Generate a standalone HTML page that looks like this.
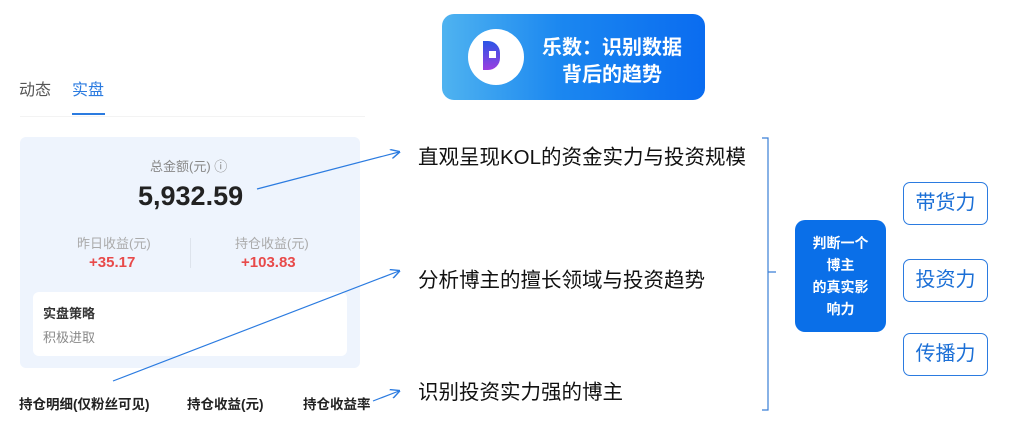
<!DOCTYPE html>
<html><head><meta charset="utf-8"><style>
body{margin:0;width:1024px;height:445px;background:#fff;position:relative;overflow:hidden;font-family:"Liberation Sans","Noto Sans CJK SC",sans-serif}
.a{position:absolute;white-space:nowrap}
</style></head><body>
<div class="a" style="left:19px;top:76px;font-size:16px;color:#555">动态</div>
<div class="a" style="left:72px;top:76px;font-size:16px;color:#2b7be0">实盘</div>
<div class="a" style="left:72px;top:113px;width:33px;height:2px;background:#2b7be0"></div>
<div class="a" style="left:20px;top:116px;width:345px;height:1px;background:#f3f3f3"></div>
<div class="a" style="left:20px;top:137px;width:340px;height:231px;background:#eef4fd;border-radius:6px"></div>
<div class="a" style="left:150px;top:156px;font-size:13px;color:#888">总金额(元) ⓘ</div>
<div class="a" style="left:138px;top:181px;font-size:27px;font-weight:bold;color:#222">5,932.59</div>
<div class="a" style="left:77px;top:233px;font-size:13px;color:#aaa">昨日收益(元)</div>
<div class="a" style="left:89px;top:254px;font-size:15px;font-weight:bold;color:#e84a4a">+35.17</div>
<div class="a" style="left:190px;top:238px;width:1px;height:30px;background:#dde3ec"></div>
<div class="a" style="left:235px;top:233px;font-size:13px;color:#aaa">持仓收益(元)</div>
<div class="a" style="left:241px;top:254px;font-size:15px;font-weight:bold;color:#e84a4a">+103.83</div>
<div class="a" style="left:33px;top:292px;width:314px;height:64px;background:#fff;border-radius:6px"></div>
<div class="a" style="left:43px;top:303px;font-size:13px;font-weight:bold;color:#333">实盘策略</div>
<div class="a" style="left:43px;top:327px;font-size:13px;color:#888">积极进取</div>
<div class="a" style="left:19px;top:393px;font-size:13.5px;font-weight:bold;color:#222">持仓明细(仅粉丝可见)</div>
<div class="a" style="left:187px;top:393px;font-size:13.5px;font-weight:bold;color:#222">持仓收益(元)</div>
<div class="a" style="left:303px;top:393px;font-size:13.5px;font-weight:bold;color:#222">持仓收益率</div>

<div class="a" style="left:442px;top:14px;width:263px;height:86px;border-radius:12px;background:linear-gradient(90deg,#4fb3f0,#1b87f0 45%,#0a6cf0)"></div>
<div class="a" style="left:468px;top:29px;width:56px;height:56px;border-radius:50%;background:#fff"></div>
<div class="a" style="left:483px;top:41px;width:17px;height:29px;background:linear-gradient(180deg,#2a55e6,#9b3ee0);border-radius:0 12px 12px 0"></div>
<div class="a" style="left:489px;top:51px;width:7px;height:7px;background:#fff"></div>
<div class="a" style="left:537px;top:35px;font-size:20px;font-weight:bold;color:#fff;line-height:27px;text-align:center;width:150px">乐数：识别数据<br>背后的趋势</div>

<svg class="a" style="left:0;top:0" width="1024" height="445">
<defs><marker id="m" markerWidth="8" markerHeight="8" refX="7" refY="4" orient="auto"><path d="M0,0 L8,4 L0,8" fill="none" stroke="#2b7be0" stroke-width="1.2"/></marker></defs>
<g stroke="#2b7be0" stroke-width="1.2" fill="none">
<line x1="257" y1="189" x2="399" y2="152" marker-end="url(#m)"/>
<line x1="113" y1="381" x2="399" y2="271" marker-end="url(#m)"/>
<line x1="373" y1="401" x2="399" y2="391" marker-end="url(#m)"/>
<path d="M762,138 H768 V410 H762 M768,272 H776" stroke="#3a7fd6"/>
</g></svg>
<div class="a" style="left:418px;top:140px;font-size:20.5px;color:#111">直观呈现KOL的资金实力与投资规模</div>
<div class="a" style="left:418px;top:263px;font-size:20.5px;color:#111">分析博主的擅长领域与投资趋势</div>
<div class="a" style="left:418px;top:375px;font-size:20.5px;color:#111">识别投资实力强的博主</div>

<div class="a" style="left:795px;top:220px;width:91px;height:112px;background:#0a6fe8;border-radius:10px;color:#fff;font-size:14px;font-weight:bold;text-align:center;line-height:22px;padding-top:12px;box-sizing:border-box">判断一个<br>博主<br>的真实影<br>响力</div>
<div class="a" style="left:903px;top:182px;width:85px;height:43px;border:1.5px solid #2b7be0;border-radius:7px;box-sizing:border-box;color:#1b6fd6;font-size:20px;text-align:center;line-height:40px">带货力</div>
<div class="a" style="left:903px;top:259px;width:85px;height:43px;border:1.5px solid #2b7be0;border-radius:7px;box-sizing:border-box;color:#1b6fd6;font-size:20px;text-align:center;line-height:40px">投资力</div>
<div class="a" style="left:903px;top:333px;width:85px;height:43px;border:1.5px solid #2b7be0;border-radius:7px;box-sizing:border-box;color:#1b6fd6;font-size:20px;text-align:center;line-height:40px">传播力</div>
</body></html>
